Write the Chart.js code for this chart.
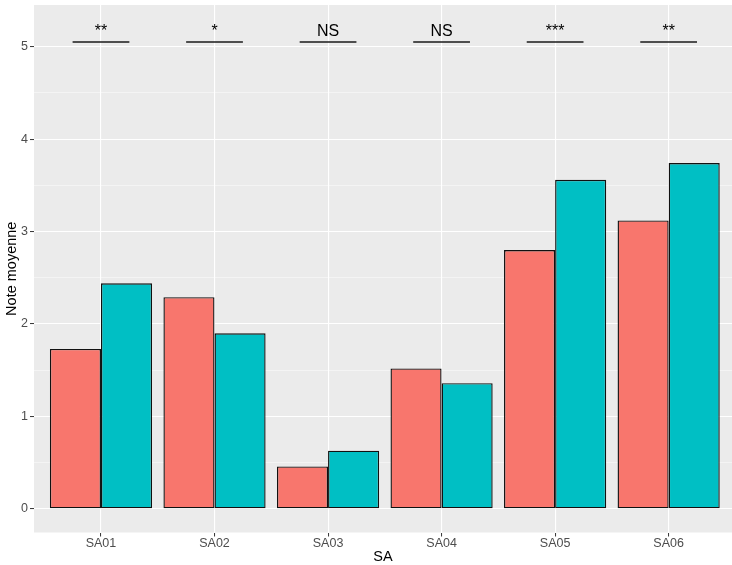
<!DOCTYPE html>
<html>
<head>
<meta charset="utf-8">
<script src="https://cdn.jsdelivr.net/npm/chart.js@4"></script>
<style>
  body { margin: 0; background: #fff; }
  canvas { display: block; }
</style>
</head>
<body>
<canvas id="chart" width="732" height="565"></canvas>
<script>
// data
const categories = ['SA01', 'SA02', 'SA03', 'SA04', 'SA05', 'SA06'];
const redValues = [1.73, 2.29, 0.46, 1.52, 2.80, 3.12];
const tealValues = [2.44, 1.90, 0.63, 1.36, 3.56, 3.74];
const signif = ['**', '*', 'NS', 'NS', '***', '**'];
const signifY = 5.05;
const yTicks = [0, 0.5, 1, 1.5, 2, 2.5, 3, 3.5, 4, 4.5, 5];

const FONT = "'Liberation Sans', Arial, sans-serif";

// grey ggplot panel behind everything
const panelPlugin = {
    id: 'panel',
    beforeDraw(chart) {
        const {ctx, chartArea} = chart;
        ctx.save();
        ctx.fillStyle = '#EBEBEB';
        ctx.fillRect(chartArea.left, chartArea.top, chartArea.right - chartArea.left, chartArea.bottom - chartArea.top);
        ctx.restore();
    }
};

// significance bars + labels above each pair
const signifPlugin = {
    id: 'signif',
    afterDatasetsDraw(chart) {
        const {ctx, scales} = chart;
        const x = scales.x, y = scales.y;
        ctx.save();
        signif.forEach((lab, i) => {
            const cx = i + 1;
            const py = y.getPixelForValue(signifY);
            ctx.strokeStyle = '#1a1a1a';
            ctx.lineWidth = 1.6;
            ctx.beginPath();
            ctx.moveTo(x.getPixelForValue(cx - 0.25), py);
            ctx.lineTo(x.getPixelForValue(cx + 0.25), py);
            ctx.stroke();
            ctx.fillStyle = '#000';
            ctx.textAlign = 'center';
            ctx.textBaseline = 'alphabetic';
            ctx.font = '16px ' + FONT;
            ctx.fillText(lab, x.getPixelForValue(cx), py - 6);
        });
        ctx.restore();
    }
};

const isMajor = v => Math.abs(v - Math.round(v)) < 1e-6;

new Chart(document.getElementById('chart').getContext('2d'), {
    type: 'bar',
    data: {
        datasets: [{
            data: redValues.map((v, i) => ({x: i + 1, y: v})),
            backgroundColor: '#F8766D',
            borderColor: '#111111',
            borderWidth: 1.4,
            borderSkipped: false,
            categoryPercentage: 0.9,
            barPercentage: 1.0
        }, {
            data: tealValues.map((v, i) => ({x: i + 1, y: v})),
            backgroundColor: '#00BFC4',
            borderColor: '#111111',
            borderWidth: 1.4,
            borderSkipped: false,
            categoryPercentage: 0.9,
            barPercentage: 1.0
        }]
    },
    options: {
        responsive: false,
        animation: false,
        layout: {padding: {top: 5, right: 0, left: 0, bottom: 0}},
        plugins: {
            legend: {display: false},
            tooltip: {enabled: false}
        },
        scales: {
            x: {
                type: 'linear',
                min: 0.41,
                max: 6.558,
                offset: false,
                afterBuildTicks: s => { s.ticks = categories.map((c, i) => ({value: i + 1})); },
                afterFit: s => { s.height = 32.5; s.paddingLeft = 0; s.paddingRight = 0; },
                border: {display: false},
                grid: {
                    offset: false,
                    color: '#FFFFFF',
                    lineWidth: 1.1,
                    drawTicks: true,
                    tickLength: 4,
                    tickColor: '#333333',
                    tickWidth: 1
                },
                ticks: {
                    padding: 0,
                    color: '#4D4D4D',
                    font: {family: FONT, size: 12.5},
                    maxRotation: 0,
                    callback: v => categories[Math.round(v) - 1]
                },
                title: {
                    display: true,
                    text: 'SA',
                    color: '#000',
                    font: {family: FONT, size: 14.5},
                    padding: {top: 0, bottom: -1}
                }
            },
            y: {
                type: 'linear',
                min: -0.255,
                max: 5.45,
                afterBuildTicks: s => { s.ticks = yTicks.map(v => ({value: v})); },
                afterFit: s => { s.width = 34; s.paddingTop = 0; s.paddingBottom = 0; },
                border: {display: false},
                grid: {
                    color: ctx => isMajor(ctx.tick.value) ? '#FFFFFF' : 'rgba(255,255,255,0.75)',
                    lineWidth: ctx => isMajor(ctx.tick.value) ? 1.1 : 0.6,
                    drawTicks: true,
                    tickLength: 4,
                    tickColor: ctx => isMajor(ctx.tick.value) ? '#333333' : 'rgba(0,0,0,0)',
                    tickWidth: 1
                },
                ticks: {
                    padding: 2,
                    color: '#4D4D4D',
                    font: {family: FONT, size: 12.5},
                    callback: v => isMajor(v) ? String(Math.round(v)) : ''
                },
                title: {
                    display: true,
                    text: 'Note moyenne',
                    color: '#000',
                    font: {family: FONT, size: 14.5},
                    padding: {top: 3, bottom: 0}
                }
            }
        }
    },
    plugins: [panelPlugin, signifPlugin]
});
</script>
</body>
</html>
